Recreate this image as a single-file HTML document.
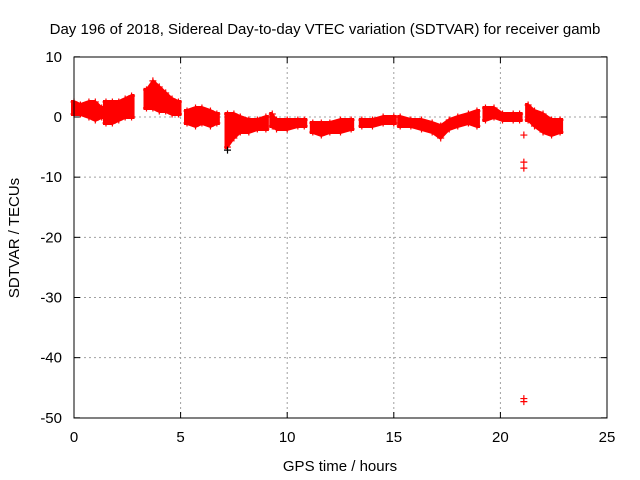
<!DOCTYPE html>
<html><head><meta charset="utf-8"><style>
body{margin:0;background:#fff}
svg{display:block;font-family:"Liberation Sans",sans-serif;font-size:15px}
</style></head><body>
<svg id="c" width="640" height="480">
<text x="325" y="34" text-anchor="middle">Day 196 of 2018, Sidereal Day-to-day VTEC variation (SDTVAR) for receiver gamb</text>
<text x="340" y="471" text-anchor="middle">GPS time / hours</text>
<text transform="translate(19,238) rotate(-90)" text-anchor="middle">SDTVAR / TECUs</text>
<g id="grid"></g>
<g id="ticks"></g>
<g id="data"></g>
<rect x="74" y="57" width="533" height="361" fill="none" stroke="#000"/>
</svg>
<script>
const xTicks=[0,5,10,15,20,25];
const yTicks=[10,0,-10,-20,-30,-40,-50];
const segId=[0,0,0,0,0, 1,1,1,1,1, 2,2,2,2,2,2, 3,3,3,3,3, 4,4,4,4,4,4, 5,5,5,5,5, 6,6,6,6,6, 7,7,7,7, 8,8,8,8,8,8,8,8,8, 9,9,9,9,9, 10,10,10,10,10];
const hours=[0.0,0.3,0.7,1.0,1.3, 1.5,1.8,2.1,2.4,2.7, 3.4,3.7,4.0,4.3,4.6,4.9, 5.3,5.7,6.0,6.4,6.7, 7.2,7.5,7.8,8.2,8.6,9.0, 9.3,9.5,10.0,10.5,10.8, 11.2,11.6,12.0,12.5,13.0, 13.5,14.0,14.5,15.0, 15.3,15.8,16.3,16.8,17.2,17.6,18.0,18.5,18.9, 19.3,19.7,20.1,20.6,20.9, 21.3,21.6,22.0,22.4,22.8];
const lows=[0.5,0.5,0,-0.5,0, -1,-1,-0.5,0,0, 1.5,1.5,1,1,0.5,0.5, -1,-1.5,-1,-1.5,-1, -5,-3.5,-2.5,-2.5,-2,-2, -1.5,-2,-2,-1.5,-1.5, -2.5,-3,-2.5,-2.5,-2, -1.5,-1.5,-1,-1, -1.5,-1.5,-2,-2.5,-3.5,-2,-1.5,-1,-1.5, -0.5,0,-0.5,-0.5,-0.5, -0.5,-1.5,-2.5,-3,-2.5];
const highs=[2.5,2,2.5,2.5,1.5, 2.5,2.5,2.5,3,3.5, 4.5,6,5,4,3,2.5, 1,1.5,1.5,1,0.5, 0.5,0.5,0,-0.5,-0.5,0, 0.5,-0.5,-0.5,-0.5,-0.5, -1,-1,-1,-0.5,-0.5, -0.5,-0.5,0,0, 0,-0.5,-0.5,-1,-1.5,-0.5,0,0.5,1, 1.5,1.5,0.5,0.5,0.5, 2,1,0.5,-0.5,-0.5];
const outX=[21.1,21.1,21.1,21.1,21.1,7.2];
const outY=[-3,-7.5,-8.5,-46.8,-47.3,-5.5];
const NS='http://www.w3.org/2000/svg';
const X=h=>74+h*533/25, Y=v=>117-v*361/60;
function mk(t,a,p){const e=document.createElementNS(NS,t);for(const k in a)e.setAttribute(k,a[k]);p.appendChild(e);return e;}
const grid=document.getElementById('grid'),ticks=document.getElementById('ticks'),data=document.getElementById('data');
xTicks.forEach(t=>{const x=X(t);
 if(t>0&&t<25){const l=mk('line',{x1:x,x2:x,y1:57,y2:418,stroke:'#a0a0a0','stroke-dasharray':'2,3'},grid);}
 mk('line',{x1:x,x2:x,y1:418,y2:412,stroke:'#000'},ticks);mk('line',{x1:x,x2:x,y1:57,y2:63,stroke:'#000'},ticks);
 const tx=mk('text',{x:x,y:442,'text-anchor':'middle'},ticks);tx.textContent=t;});
yTicks.forEach(t=>{const y=Y(t);
 if(t<10&&t>-50){const l=mk('line',{x1:74,x2:607,y1:y,y2:y,stroke:'#a0a0a0','stroke-dasharray':'2,3'},grid);}
 mk('line',{x1:74,x2:80,y1:y,y2:y,stroke:'#000'},ticks);mk('line',{x1:607,x2:601,y1:y,y2:y,stroke:'#000'},ticks);
 const tx=mk('text',{x:62,y:y+5,'text-anchor':'end'},ticks);tx.textContent=t;});
const segs={};
segId.forEach((s,i)=>{(segs[s]=segs[s]||[]).push(i);});
Object.keys(segs).forEach(s=>{const idx=segs[s];
 const top=idx.map(i=>X(hours[i])+','+(Y(highs[i])-2));
 const bot=idx.slice().reverse().map(i=>X(hours[i])+','+(Y(lows[i])+2));
 const f=idx[0],l=idx[idx.length-1];
 const pts=[(X(hours[f])-3)+','+(Y(highs[f])-2)].concat(top,[(X(hours[l])+3)+','+(Y(highs[l])-2),(X(hours[l])+3)+','+(Y(lows[l])+2)],bot,[(X(hours[f])-3)+','+(Y(lows[f])+2)]);
 const p=mk('polygon',{points:pts.join(' '),fill:'#ff0000'},data);
 });
function plus(x,y,c){return mk('path',{d:`M${x-3.5},${y}h7M${x},${y-3.5}v7`,stroke:c,'stroke-width':1.2,fill:'none'},data);}
hours.forEach((h,i)=>{[highs[i],lows[i]].forEach(v=>{const p=plus(X(h),Y(v),'#ff0000');});});
outX.forEach((h,i)=>{const p=plus(X(h),Y(outY[i]),i==5?'#000':'#ff0000');});
</script>
</body></html>
